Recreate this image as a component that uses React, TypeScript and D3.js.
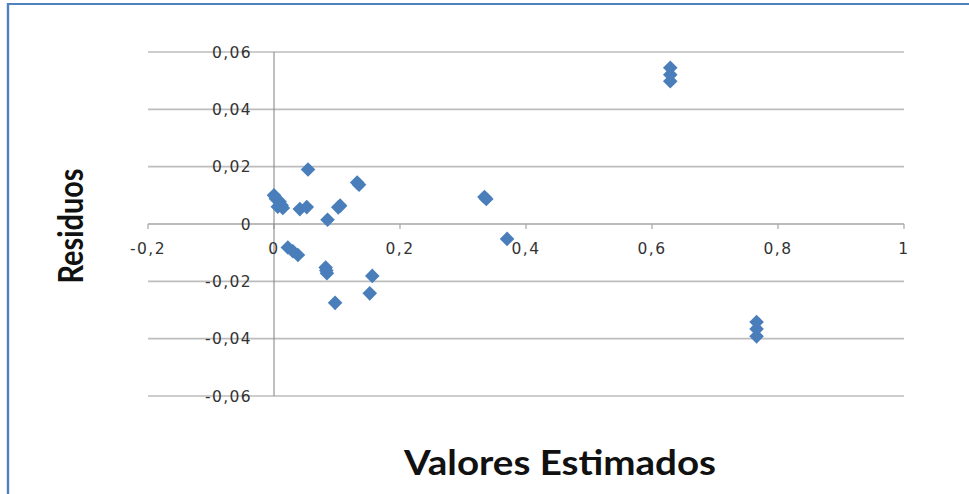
import React from "react";
import * as d3 from "d3";

const estimados = [0.0, 0.003, 0.009, 0.006, 0.012, 0.014, 0.041, 0.052, 0.054, 0.085, 0.102, 0.105, 0.132, 0.135, 0.022, 0.03, 0.038, 0.082, 0.083, 0.084, 0.097, 0.152, 0.156, 0.334, 0.337, 0.37, 0.629, 0.629, 0.629, 0.766, 0.766, 0.766];
const residuos = [0.0100, 0.0088, 0.0078, 0.006, 0.0065, 0.0056, 0.0052, 0.0059, 0.019, 0.0015, 0.0058, 0.0064, 0.0145, 0.0137, -0.0082, -0.0095, -0.0108, -0.0152, -0.0162, -0.0172, -0.0275, -0.0242, -0.0181, 0.0094, 0.0087, -0.0052, 0.0545, 0.0521, 0.0498, -0.0342, -0.0366, -0.0392];
const xTicks = [-0.2, 0, 0.2, 0.4, 0.6, 0.8, 1];
const yTicks = [-0.06, -0.04, -0.02, 0, 0.02, 0.04, 0.06];
const xTitle = "Valores Estimados";
const yTitle = "Residuos";

const W = 969;
const H = 494;

const locale = d3.formatLocale({ decimal: ",", thousands: ".", grouping: [3], currency: ["", ""], minus: "-" });
const fx = locale.format(".1~f");
const fy = locale.format(".2~f");

export default function App() {
  const x = d3.scaleLinear().domain([-0.2, 1]).range([148, 904]);
  const y = d3.scaleLinear().domain([-0.06, 0.06]).range([396, 52]);
  const r = 7.3;
  const diamond = `M0,${-r}L${r},0L0,${r}L${-r},0Z`;
  const tickFont = "'DejaVu Sans', Verdana, sans-serif";
  return (
    <svg width={W} height={H} style={{ position: "absolute", left: 0, top: 0, background: "#fff" }}>
      <rect x={0} y={0} width={W} height={H} fill="#fff" />
      {/* frame */}
      <line x1={8} y1={4} x2={W} y2={4} stroke="#4f81bd" strokeWidth={2.2} />
      <line x1={8} y1={3} x2={8} y2={H} stroke="#4f81bd" strokeWidth={2.4} />
      {/* gridlines */}
      {yTicks.filter((t) => t !== 0).map((t) => (
        <line key={"g" + t} x1={x(-0.2)} x2={x(1)} y1={y(t)} y2={y(t)} stroke="#bdbdbd" strokeWidth={1.6} />
      ))}
      {/* x axis */}
      <line x1={x(-0.2)} x2={x(1)} y1={y(0)} y2={y(0)} stroke="#a6a6a6" strokeWidth={1.6} />
      {xTicks.map((t) => (
        <line key={"t" + t} x1={x(t)} x2={x(t)} y1={y(0)} y2={y(0) + 5} stroke="#a6a6a6" strokeWidth={1.2} />
      ))}
      {/* y axis */}
      <line x1={x(0)} x2={x(0)} y1={y(0.06)} y2={y(-0.06)} stroke="#8a8a8a" strokeWidth={1.1} />
      {/* tick labels */}
      {yTicks.map((t) => (
        <text key={"yl" + t} x={252} y={y(t)} dy="0.36em" textAnchor="end" fontFamily={tickFont} fontSize={15.5} letterSpacing={1.4} fill="#333">
          {fy(t)}
        </text>
      ))}
      {xTicks.map((t) => (
        <text key={"xl" + t} x={x(t)} y={254} textAnchor="middle" fontFamily={tickFont} fontSize={15.5} letterSpacing={1.4} fill="#333">
          {fx(t)}
        </text>
      ))}
      {/* points */}
      {estimados.map((v, i) => (
        <path key={"p" + i} d={diamond} transform={`translate(${x(v)},${y(residuos[i])})`} fill="#4a7ebb" />
      ))}
      {/* axis titles */}
      <text x={560} y={475} textAnchor="middle" fontFamily="Lato, 'Open Sans', sans-serif" fontWeight={700} fontSize={35} textLength={312} lengthAdjust="spacingAndGlyphs" fill="#111">
        {xTitle}
      </text>
      <text transform="translate(83,226) rotate(-90)" textAnchor="middle" fontFamily="Lato, 'Open Sans', sans-serif" fontWeight={700} fontSize={34} textLength={115} lengthAdjust="spacingAndGlyphs" fill="#111">
        {yTitle}
      </text>
    </svg>
  );
}
